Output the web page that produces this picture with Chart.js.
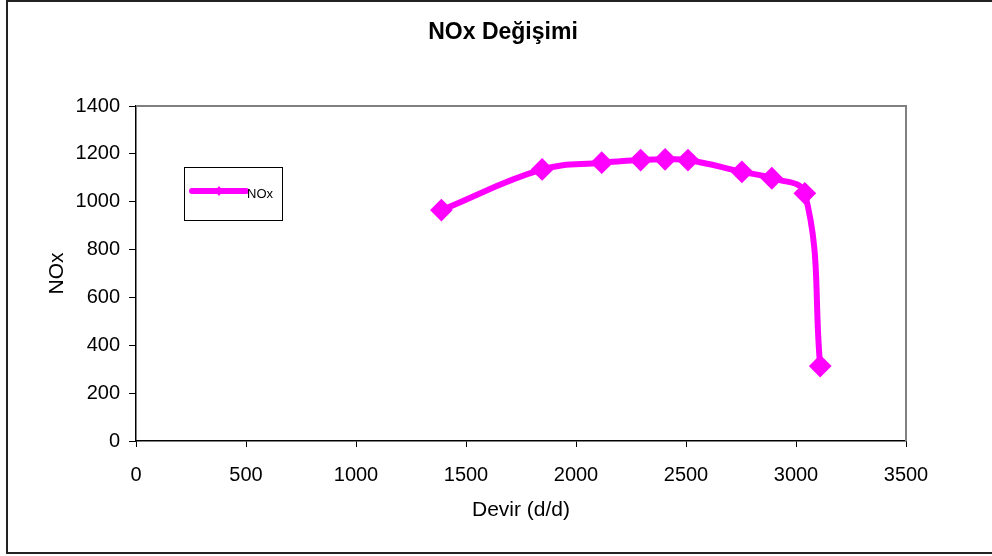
<!DOCTYPE html>
<html>
<head>
<meta charset="utf-8">
<script src="https://cdn.jsdelivr.net/npm/chart.js@4/dist/chart.umd.min.js"></script>
<style>
  html, body { margin: 0; padding: 0; background: #fff; }
  #wrap { width: 992px; height: 556px; }
</style>
</head>
<body>
<div id="wrap"><canvas id="c" width="992" height="556"></canvas></div>
<script>
// Engine speed (rpm) and measured NOx
const devir = [1388, 1846, 2117, 2294, 2405, 2509, 2754, 2890, 3040, 3110];
const nox   = [965, 1135, 1163, 1174, 1177, 1174, 1125, 1098, 1035, 313];

const chartTitle = 'NOx Değişimi';
const xTitle = 'Devir (d/d)';
const yTitle = 'NOx';
const seriesName = 'NOx';

const MAGENTA = '#FF00FF';
const FONT = 'Arial, "Liberation Sans", sans-serif';

// Frame, titles and inset legend drawn around the plot
const decorations = {
  id: 'decorations',
  afterDraw(chart) {
    const ctx = chart.ctx;
    const a = chart.chartArea;
    ctx.save();

    // outer frame
    ctx.strokeStyle = '#222';
    ctx.lineWidth = 2;
    ctx.strokeRect(7, 1, 1000, 552);

    // plot frame top and right edges
    ctx.strokeStyle = '#808080';
    ctx.lineWidth = 2;
    ctx.beginPath();
    ctx.moveTo(a.left, a.top);
    ctx.lineTo(a.right, a.top);
    ctx.lineTo(a.right, a.bottom);
    ctx.stroke();

    // chart title
    ctx.fillStyle = '#000';
    ctx.textAlign = 'center';
    ctx.textBaseline = 'middle';
    ctx.font = 'bold 23px ' + FONT;
    ctx.fillText(chartTitle, 503, 33);

    // axis titles
    ctx.font = '21px ' + FONT;
    ctx.fillText(xTitle, (a.left + a.right) / 2, 510);
    ctx.save();
    ctx.translate(57, (a.top + a.bottom) / 2);
    ctx.rotate(-Math.PI / 2);
    ctx.fillText(yTitle, 0, 0);
    ctx.restore();

    // legend box
    ctx.strokeStyle = '#000';
    ctx.lineWidth = 1;
    ctx.strokeRect(184.5, 167.5, 98, 53);
    ctx.strokeStyle = MAGENTA;
    ctx.lineWidth = 6;
    ctx.lineCap = 'round';
    ctx.beginPath();
    ctx.moveTo(192, 191);
    ctx.lineTo(246, 191);
    ctx.stroke();
    ctx.fillStyle = MAGENTA;
    ctx.beginPath();
    ctx.moveTo(219, 186);
    ctx.lineTo(223, 191);
    ctx.lineTo(219, 196);
    ctx.lineTo(215, 191);
    ctx.closePath();
    ctx.fill();
    ctx.fillStyle = '#000';
    ctx.textAlign = 'left';
    ctx.font = '13px ' + FONT;
    ctx.fillText(seriesName, 247, 194);

    ctx.restore();
  }
};

const plainNumber = v => String(v);

new Chart(document.getElementById('c'), {
  type: 'line',
  data: {
    datasets: [{
      label: seriesName,
      data: devir.map((x, i) => ({ x: x, y: nox[i] })),
      borderColor: MAGENTA,
      backgroundColor: MAGENTA,
      borderWidth: 6,
      tension: 0.4,
      pointStyle: 'rectRot',
      pointRadius: 10,
      pointBorderWidth: 2,
      pointBackgroundColor: MAGENTA,
      pointBorderColor: MAGENTA,
      clip: false
    }]
  },
  options: {
    responsive: false,
    animation: false,
    events: [],
    layout: { padding: { top: 106, right: 86, bottom: 0, left: 0 } },
    plugins: {
      legend: { display: false },
      title: { display: false },
      tooltip: { enabled: false }
    },
    scales: {
      x: {
        type: 'linear',
        min: 0, max: 3500,
        ticks: { stepSize: 500, color: '#000', font: { family: FONT, size: 20 }, padding: 16, maxRotation: 0, callback: plainNumber },
        grid: { drawOnChartArea: false, drawTicks: true, tickLength: 6, color: '#000' },
        border: { color: '#000', width: 1.5 },
        afterFit(s) { s.height = 115; }
      },
      y: {
        min: 0, max: 1400,
        ticks: { stepSize: 200, color: '#000', font: { family: FONT, size: 20 }, padding: 9, callback: plainNumber },
        grid: { drawOnChartArea: false, drawTicks: true, tickLength: 7, color: '#000' },
        border: { color: '#000', width: 1.5 },
        afterFit(s) { s.width = 136; }
      }
    }
  },
  plugins: [decorations]
});
</script>
</body>
</html>
